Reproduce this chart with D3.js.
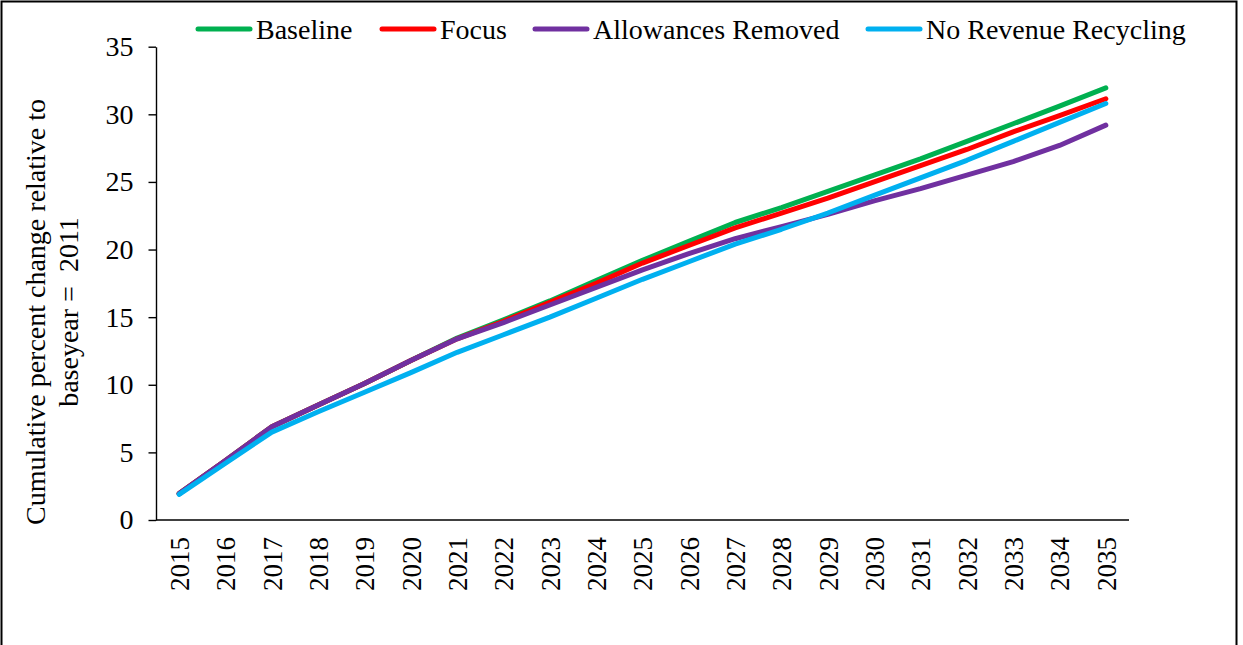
<!DOCTYPE html>
<html>
<head>
<meta charset="utf-8">
<script src="https://cdn.jsdelivr.net/npm/d3@7"></script>
<style>
  html, body { margin: 0; padding: 0; background: #fff; }
  svg { display: block; font-family: "Liberation Serif", "Times New Roman", serif; }
  text { white-space: pre; }
</style>
</head>
<body>
<svg id="chart" width="1243" height="645"></svg>
<script>
// Years on the horizontal axis
const years = ["2015","2016","2017","2018","2019","2020","2021","2022","2023","2024","2025",
               "2026","2027","2028","2029","2030","2031","2032","2033","2034","2035"];

// Cumulative percent change relative to base year 2011, one array per scenario
const baseline   = [1.95, 4.4, 6.9, 8.5, 10.1, 11.8, 13.45, 14.8, 16.2, 17.7, 19.2,
                    20.6, 22.0, 23.1, 24.3, 25.5, 26.7, 28.0, 29.3, 30.6, 31.95];
const focus      = [1.95, 4.4, 6.9, 8.5, 10.1, 11.8, 13.4, 14.7, 16.1, 17.5, 19.0,
                    20.3, 21.6, 22.7, 23.8, 25.0, 26.2, 27.4, 28.7, 29.9, 31.15];
const allowances = [1.95, 4.4, 6.9, 8.5, 10.1, 11.8, 13.4, 14.6, 15.9, 17.2, 18.5,
                    19.7, 20.8, 21.7, 22.6, 23.6, 24.5, 25.5, 26.5, 27.7, 29.2];
const noRecycle  = [1.9, 4.2, 6.5, 8.0, 9.45, 10.9, 12.4, 13.7, 15.0, 16.4, 17.8,
                    19.1, 20.4, 21.5, 22.7, 24.0, 25.3, 26.6, 28.0, 29.4, 30.8];

const seriesNames  = ["Baseline", "Focus", "Allowances Removed", "No Revenue Recycling"];
const seriesValues = [baseline, focus, allowances, noRecycle];
const seriesColors = ["#00B050", "#FF0000", "#7030A0", "#00B0F0"];

const yTicks = [0, 5, 10, 15, 20, 25, 30, 35];

const svg = d3.select("#chart");

// Outer frame
svg.append("rect")
  .attr("x", 1.5).attr("y", 1.5)
  .attr("width", 1235).attr("height", 660)
  .attr("fill", "none").attr("stroke", "#000").attr("stroke-width", 2);

const plot = { left: 156, right: 1129, top: 46.7, bottom: 520 };

const x = d3.scalePoint().domain(years).range([plot.left, plot.right]).padding(0.5);
const y = d3.scaleLinear().domain([0, 35]).range([plot.bottom, plot.top]);

// Y axis
const yAxis = svg.append("g")
  .attr("transform", `translate(${plot.left},0)`)
  .call(d3.axisLeft(y).tickValues(yTicks).tickSize(7.5).tickPadding(15).tickSizeOuter(0));
yAxis.select(".domain").attr("stroke", "#000").attr("stroke-width", 1.4);
yAxis.selectAll(".tick line").attr("stroke", "#000").attr("stroke-width", 1.4);
yAxis.selectAll(".tick text")
  .attr("font-family", "Liberation Serif, Times New Roman, serif")
  .attr("font-size", 28).attr("fill", "#000");

// X axis with rotated year labels
const xAxis = svg.append("g")
  .attr("transform", `translate(0,${plot.bottom})`)
  .call(d3.axisBottom(x).tickSize(0).tickSizeOuter(0));
xAxis.select(".domain")
  .attr("d", `M${plot.left},0H${plot.right}`)
  .attr("stroke", "#000").attr("stroke-width", 1.4);
xAxis.selectAll(".tick text")
  .attr("font-family", "Liberation Serif, Times New Roman, serif")
  .attr("font-size", 27).attr("fill", "#000")
  .attr("text-anchor", "end")
  .attr("dy", "0.35em")
  .attr("transform", "translate(0,17) rotate(-90)")
  .attr("x", 0).attr("y", 0);

// Y axis title (two lines)
const titleG = svg.append("g").attr("transform", "translate(0,312) rotate(-90)");
titleG.append("text")
  .attr("x", 0).attr("y", 45)
  .attr("text-anchor", "middle")
  .attr("font-size", 28).attr("fill", "#000")
  .text("Cumulative percent change relative to");
titleG.append("text")
  .attr("x", 0).attr("y", 78)
  .attr("text-anchor", "middle")
  .attr("font-size", 28).attr("fill", "#000")
  .text("baseyear =  2011");

// Lines
const line = d3.line()
  .x((d, i) => x(years[i]))
  .y(d => y(d));

svg.append("g").selectAll("path")
  .data(seriesValues)
  .join("path")
  .attr("d", d => line(d))
  .attr("fill", "none")
  .attr("stroke", (d, i) => seriesColors[i])
  .attr("stroke-width", 5)
  .attr("stroke-linecap", "round")
  .attr("stroke-linejoin", "round");

// Legend
const legendX = [198, 382, 535, 868];
const legend = svg.append("g");
seriesNames.forEach((name, i) => {
  legend.append("line")
    .attr("x1", legendX[i]).attr("x2", legendX[i] + 52)
    .attr("y1", 29).attr("y2", 29)
    .attr("stroke", seriesColors[i]).attr("stroke-width", 5)
    .attr("stroke-linecap", "round");
  legend.append("text")
    .attr("x", legendX[i] + 58).attr("y", 38.5)
    .attr("font-size", 28).attr("fill", "#000")
    .text(name);
});
</script>
</body>
</html>
